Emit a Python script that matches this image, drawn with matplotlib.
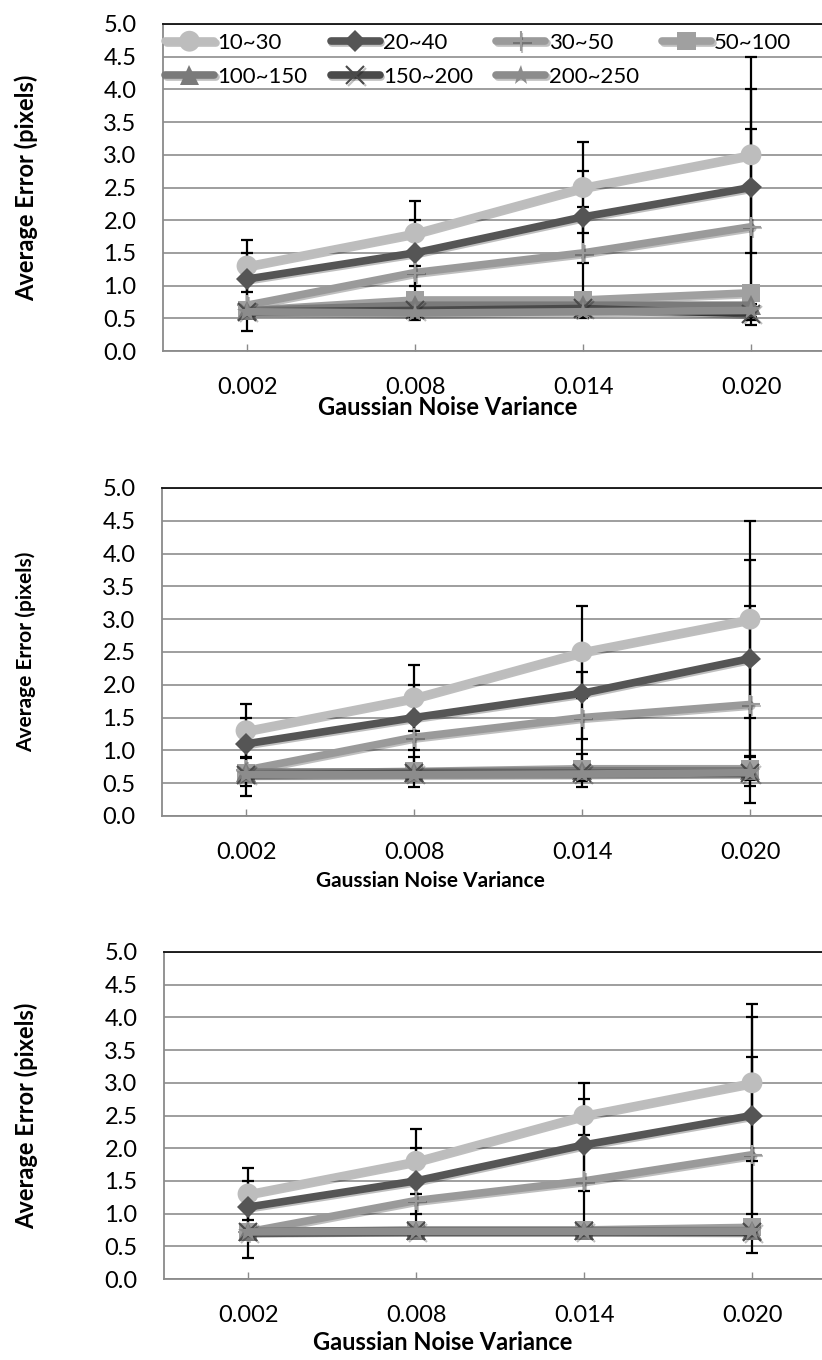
import matplotlib
matplotlib.use("Agg")
import matplotlib.pyplot as plt
import matplotlib.patheffects as pe
from matplotlib.ticker import FormatStrFormatter

plt.rcParams['font.family'] = ['Lato', 'DejaVu Sans']

# categories and series labels
variances = ['0.002', '0.008', '0.014', '0.020']
series_names = ['10~30', '20~40', '30~50', '50~100', '100~150', '150~200', '200~250']

# panel 1: mean error and error half-widths
p1_10_30 = [1.3, 1.8, 2.5, 3.0]
p1_20_40 = [1.1, 1.5, 2.05, 2.5]
p1_30_50 = [0.7, 1.2, 1.5, 1.9]
p1_50_100 = [0.62, 0.78, 0.78, 0.89]
p1_100_150 = [0.62, 0.70, 0.70, 0.70]
p1_150_200 = [0.60, 0.62, 0.65, 0.57]
p1_200_250 = [0.60, 0.58, 0.60, 0.62]
p1_err_top = [0.4, 0.5, 0.7, 1.5]
p1_err_low = [0.1, 0.1, 0.1, 0.1]

# panel 2
p2_10_30 = [1.3, 1.8, 2.5, 3.0]
p2_20_40 = [1.1, 1.5, 1.87, 2.4]
p2_30_50 = [0.7, 1.2, 1.5, 1.7]
p2_50_100 = [0.65, 0.68, 0.72, 0.72]
p2_100_150 = [0.67, 0.67, 0.69, 0.69]
p2_150_200 = [0.63, 0.65, 0.65, 0.65]
p2_200_250 = [0.63, 0.63, 0.64, 0.66]
p2_err_top = [0.4, 0.5, 0.7, 1.5]
p2_err_low = [0.22, 0.23, 0.25, 0.23]

# panel 3
p3_10_30 = [1.3, 1.8, 2.5, 3.0]
p3_20_40 = [1.1, 1.5, 2.05, 2.5]
p3_30_50 = [0.72, 1.2, 1.5, 1.9]
p3_50_100 = [0.72, 0.75, 0.75, 0.79]
p3_100_150 = [0.73, 0.74, 0.74, 0.74]
p3_150_200 = [0.72, 0.73, 0.73, 0.72]
p3_200_250 = [0.72, 0.73, 0.73, 0.73]
p3_err_10_30 = [0.4, 0.5, 0.5, 1.2]
p3_err_top = [0.4, 0.5, 0.7, 1.5]
p3_err_low = [0.08, 0.08, 0.08, 0.08]

panels = [
    dict(values=[p1_10_30, p1_20_40, p1_30_50, p1_50_100, p1_100_150, p1_150_200, p1_200_250],
         errors=[p1_err_top, p1_err_top, p1_err_top, p1_err_low, p1_err_low, p1_err_low, p1_err_low],
         rect=[163, 24, 835, 351], label_size=17, ylab_x=-0.186, xlab=(0.423, -0.138), legend=True),
    dict(values=[p2_10_30, p2_20_40, p2_30_50, p2_50_100, p2_100_150, p2_150_200, p2_200_250],
         errors=[p2_err_top, p2_err_top, p2_err_top, p1_err_low, p2_err_low, p1_err_low, p1_err_low],
         rect=[162, 488, 834, 816], label_size=15, ylab_x=-0.1875, xlab=(0.399, -0.168), legend=False),
    dict(values=[p3_10_30, p3_20_40, p3_30_50, p3_50_100, p3_100_150, p3_150_200, p3_200_250],
         errors=[p3_err_10_30, p3_err_top, p3_err_top, p3_err_low, p3_err_low, p3_err_low, p3_err_low],
         rect=[164, 952, 836, 1279], label_size=17, ylab_x=-0.1875, xlab=(0.414, -0.159), legend=False),
]

styles = [
    dict(color='#BDBDBD', marker='o', ms=15, mew=0),
    dict(color='#555555', marker='D', ms=11, mew=0),
    dict(color='#9A9A9A', marker='+', ms=14, mew=1.5),
    dict(color='#A0A0A0', marker='s', ms=13, mew=0),
    dict(color='#7A7A7A', marker='^', ms=14, mew=0),
    dict(color='#4A4A4A', marker='x', ms=13, mew=1.5),
    dict(color='#8C8C8C', marker='*', ms=15, mew=0),
]

W, H = 822, 1360
fig = plt.figure(figsize=(W / 100, H / 100), dpi=100)
xpos = list(range(len(variances)))
shadow = [pe.SimpleLineShadow(offset=(1.2, -1.2), shadow_color='#000000', alpha=0.25), pe.Normal()]

for panel in panels:
    x0, y0, x1, y1 = panel['rect']
    ax = fig.add_axes([x0 / W, 1 - y1 / H, (x1 - x0) / W, (y1 - y0) / H])
    ax.set_xlim(-0.5, len(variances) - 0.5)
    ax.set_ylim(0, 5)
    ax.set_yticks([i * 0.5 for i in range(11)])
    ax.yaxis.set_major_formatter(FormatStrFormatter('%.1f'))
    ax.set_xticks(xpos)
    ax.set_xticklabels(variances)
    ax.grid(axis='y', color='#8E8E8E', lw=1.2, zorder=0)
    ax.set_axisbelow(True)
    for side in ['left', 'bottom']:
        ax.spines[side].set_color('#8A8A8A')
        ax.spines[side].set_linewidth(1.3)
    ax.spines['top'].set_color('#111111')
    ax.spines['top'].set_linewidth(1.3)
    ax.spines['right'].set_visible(False)
    ax.tick_params(axis='x', direction='in', length=5, width=1, color='#8A8A8A', pad=19, labelsize=17)
    ax.tick_params(axis='y', length=0, pad=19, labelsize=17)

    for i, (vals, errs) in enumerate(zip(panel['values'], panel['errors'])):
        ax.errorbar(xpos, vals, yerr=errs, fmt='none', ecolor='black', elinewidth=1.6,
                    capsize=4.5, capthick=1.6, zorder=2)
    handles = []
    for i, (vals, st) in enumerate(zip(panel['values'], styles)):
        line, = ax.plot(xpos, vals, color=st['color'], lw=5.5, marker=st['marker'],
                        ms=st['ms'], mew=st['mew'], mfc=st['color'], mec=st['color'],
                        solid_capstyle='round', label=series_names[i], zorder=3 + i,
                        path_effects=shadow)
        handles.append(line)

    ax.set_ylabel('Average Error (pixels)', fontsize=panel['label_size'], fontweight='bold')
    ax.yaxis.set_label_coords(panel['ylab_x'], 0.5)
    ax.set_xlabel('Gaussian Noise Variance', fontsize=panel['label_size'], fontweight='bold')
    ax.xaxis.set_label_coords(*panel['xlab'])

    if panel['legend']:
        # row-major order across four columns
        order = [0, 4, 1, 5, 2, 6, 3]
        ax.legend(handles=[handles[k] for k in order], ncol=4, loc='upper left',
                  bbox_to_anchor=(0.003, 1 - 9 / 327), frameon=False, fontsize=16,
                  handlelength=2.2, handletextpad=0.15, columnspacing=1.05,
                  labelspacing=0.63, borderaxespad=0, borderpad=0)

fig.savefig('out.png', dpi=100)
